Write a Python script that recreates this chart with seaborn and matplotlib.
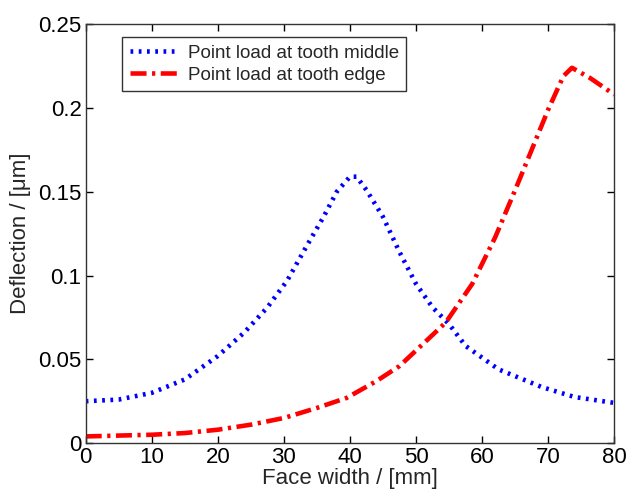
import numpy as np
import pandas as pd
import matplotlib
matplotlib.use("Agg")
import matplotlib.pyplot as plt
import seaborn as sns

# face width positions [mm] and deflection for load at tooth middle [um]
mid_width = [0, 5, 10, 15, 17.5, 20, 24, 27.5, 30.5, 33.5, 36, 38, 40, 41,
             42.5, 45, 47.5, 50, 52.5, 55, 57.5, 62.5, 69, 74, 80]
defl_middle = [0.025, 0.026, 0.030, 0.038, 0.045, 0.052, 0.066, 0.081, 0.097,
               0.118, 0.135, 0.150, 0.159, 0.159, 0.151, 0.135, 0.114, 0.095,
               0.081, 0.071, 0.058, 0.044, 0.0335, 0.0275, 0.024]
# face width positions [mm] and deflection for load at tooth edge [um]
edge_width = [0, 5, 10, 15, 20, 25, 30, 35, 39.5, 44, 47.5, 51, 54.5, 58.5,
              62, 65, 67.5, 70, 72.3, 73.6, 76.3, 80]
defl_edge = [0.004, 0.0045, 0.005, 0.006, 0.008, 0.011, 0.015, 0.021, 0.027,
             0.037, 0.046, 0.059, 0.072, 0.095, 0.123, 0.151, 0.175, 0.199,
             0.219, 0.224, 0.218, 0.208]

df_mid = pd.DataFrame({"x": mid_width, "y": defl_middle})
df_edge = pd.DataFrame({"x": edge_width, "y": defl_edge})

sns.set_style("white")
plt.rcParams["font.family"] = ["Liberation Sans", "DejaVu Sans"]

fig = plt.figure(figsize=(6.3, 4.94), dpi=100)
ax = fig.add_axes([0.136, 0.103, 0.839, 0.848])

sns.lineplot(data=df_mid, x="x", y="y", ax=ax, color="#0000ff", lw=3.3,
             linestyle=(0, (0.6, 1.2)), label="Point load at tooth middle")
sns.lineplot(data=df_edge, x="x", y="y", ax=ax, color="#ff0000", lw=3.3,
             linestyle=(0, (3.5, 1.2, 0.7, 1.2)), label="Point load at tooth edge")

ax.set_xlim(0, 80)
ax.set_ylim(0, 0.25)
ax.set_xticks(np.arange(0, 81, 10))
ax.set_yticks([0, 0.05, 0.1, 0.15, 0.2, 0.25])
ax.set_yticklabels(["0", "0.05", "0.1", "0.15", "0.2", "0.25"])
ax.tick_params(direction="in", length=5, width=1, labelsize=16, top=True,
               right=True, bottom=True, left=True, pad=3, colors="black")
for s in ax.spines.values():
    s.set_color("#333333")
    s.set_linewidth(1)

ax.set_xlabel("Face width / [mm]", fontsize=16, labelpad=0)
ax.set_ylabel("Deflection / [\u03bcm]", fontsize=16, labelpad=5)

leg = ax.legend(loc="upper left", bbox_to_anchor=(0.069, 0.969), fontsize=13.5,
                frameon=True, fancybox=False, handlelength=2.5,
                borderpad=0.4, labelspacing=0.25, handletextpad=0.6,
                borderaxespad=0)
leg.get_frame().set_edgecolor("black")
leg.get_frame().set_linewidth(1)

fig.savefig("out.png", dpi=100)
